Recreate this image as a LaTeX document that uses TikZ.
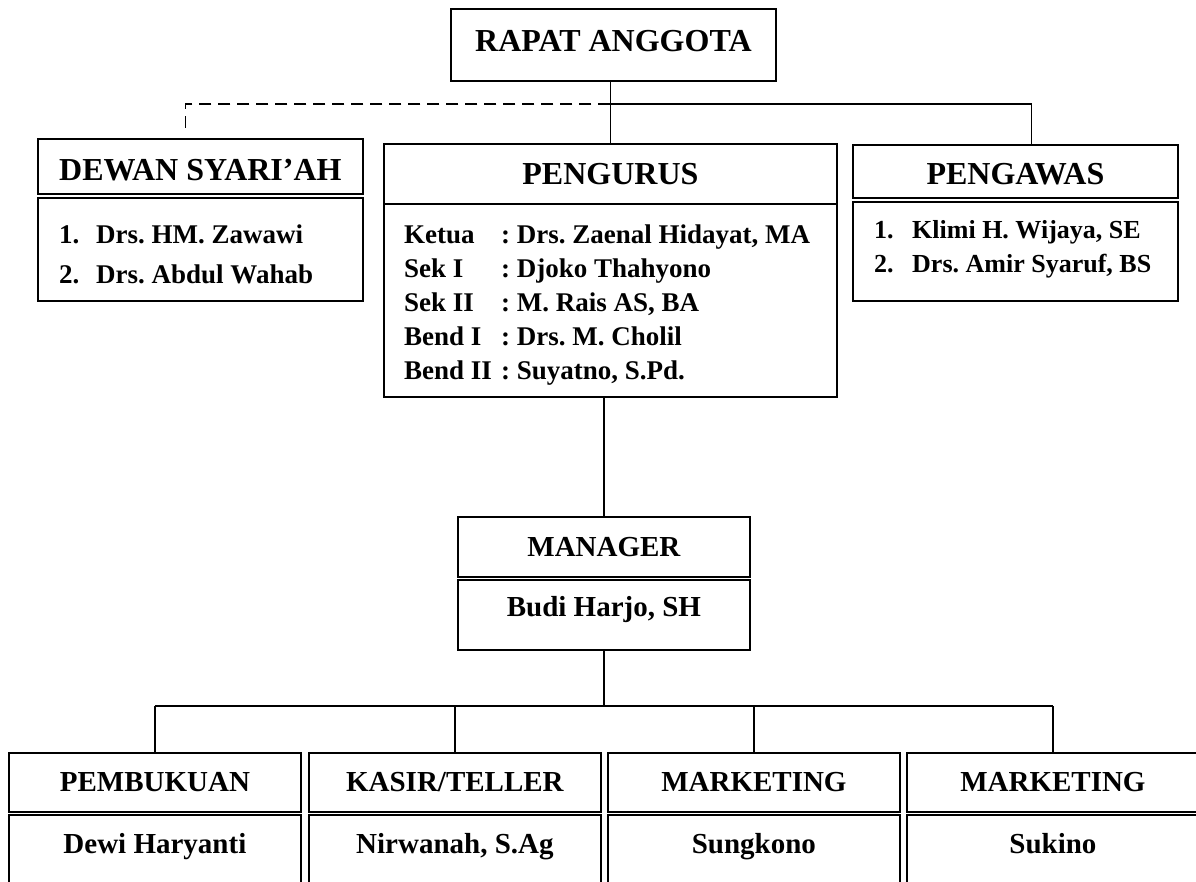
\documentclass[tikz,border=0pt]{standalone}
\usepackage{fontspec}
\setmainfont{Liberation Serif}
\usetikzlibrary{positioning}
\frenchspacing
\tikzset{
  orgbox/.style={draw, rectangle, line width=1.8pt, inner sep=0pt},
  tophead/.style={orgbox, anchor=north west, text height=21pt, text depth=0pt,
    font=\fontsize{32}{38}\selectfont\bfseries},
  lowhead/.style={orgbox, anchor=north west, minimum width=292pt, minimum height=59pt,
    text height=19pt, text depth=0pt, font=\fontsize{29}{35}\selectfont\bfseries},
  lowbody/.style={orgbox, minimum width=292pt, minimum height=100pt,
    text height=20pt, text depth=44pt, font=\fontsize{29}{35}\selectfont\bfseries},
  listtxt/.style={inner sep=0pt, anchor=base west},
  link/.style={line width=1.8pt},
  dashlink/.style={link, dash pattern=on 12pt off 7pt}
}

\begin{document}
\begin{tikzpicture}[x=1pt, y=-1pt]
  \useasboundingbox (0,0) rectangle (1196,881);
  \clip (0,0) rectangle (1196,881);

  % top level
  \node[tophead, minimum width=325pt, minimum height=72pt, text depth=7pt] (rapat) at (450,8) {RAPAT ANGGOTA};

  % dewan syariah
  \node[tophead, minimum width=325pt, minimum height=55pt, text height=29pt] (dewan-head) at (37,138) {DEWAN SYARI'AH};
  \node[orgbox, minimum width=325pt, minimum height=103pt, below=2.2pt of dewan-head] (dewan-body) {};
  \node[listtxt, font=\fontsize{27}{40}\selectfont\bfseries] (dewan-list) at (59,243)
    {\begin{tabular}[t]{@{}p{37pt}@{}l@{}}1. & Drs. HM. Zawawi\\ 2. & Drs. Abdul Wahab\end{tabular}};

  % pengurus
  \node[tophead, minimum width=453pt, minimum height=60pt] (pengurus-head) at (383,143) {PENGURUS};
  \node[orgbox, minimum width=453pt, minimum height=193pt, below=-1.8pt of pengurus-head] (pengurus-body) {};
  \node[listtxt, font=\fontsize{27}{34}\selectfont\bfseries] (pengurus-list) at (404,243)
    {\begin{tabular}[t]{@{}p{97pt}@{}l@{}}
      Ketua & : Drs. Zaenal Hidayat, MA\\
      Sek I & : Djoko Thahyono\\
      Sek II & : M. Rais AS, BA\\
      Bend I & : Drs. M. Cholil\\
      Bend II & : Suyatno, S.Pd.
    \end{tabular}};

  % pengawas
  \node[tophead, minimum width=325pt, minimum height=53pt, text height=27pt] (pengawas-head) at (852,144) {PENGAWAS};
  \node[orgbox, minimum width=325pt, minimum height=99pt, below=2.2pt of pengawas-head] (pengawas-body) {};
  \node[listtxt, font=\fontsize{26}{34}\selectfont\bfseries] (pengawas-list) at (874,238)
    {\begin{tabular}[t]{@{}p{38pt}@{}l@{}}1. & Klimi H. Wijaya, SE\\ 2. & Drs. Amir Syaruf, BS\end{tabular}};

  % manager
  \node[lowhead, minimum height=60pt] (manager-head) at (457,516) {MANAGER};
  \node[lowbody, minimum height=70pt, text depth=18pt, below=1.6pt of manager-head] (manager-body) {Budi Harjo, SH};

  % units
  \node[lowhead] (buku-head) at (8,752) {PEMBUKUAN};
  \node[lowbody, below=1.6pt of buku-head] (buku-body) {Dewi Haryanti};
  \node[lowhead] (kasir-head) at (308,752) {KASIR/TELLER};
  \node[lowbody, below=1.6pt of kasir-head] (kasir-body) {Nirwanah, S.Ag};
  \node[lowhead] (mkt-a-head) at (607,752) {MARKETING};
  \node[lowbody, below=1.6pt of mkt-a-head] (mkt-a-body) {Sungkono};
  \node[lowhead] (mkt-b-head) at (906,752) {MARKETING};
  \node[lowbody, below=1.6pt of mkt-b-head] (mkt-b-body) {Sukino};

  % lines
  \path (pengurus-head.north) ++(0,-39) coordinate (bus-top);
  \path (manager-body.south) ++(0,55) coordinate (bus-low);
  \draw[link] (rapat.south -| pengurus-head.north) -- (pengurus-head.north);
  \draw[link] (bus-top) -| ([xshift=16pt]pengawas-head.north);
  \draw[dashlink] (bus-top) -| ([xshift=-15pt,yshift=4pt]dewan-head.north);
  \draw[link] (manager-head.north |- pengurus-body.south) -- (manager-head.north);
  \draw[link] (manager-body.south) -- (bus-low);
  \draw[link] (buku-head.north |- bus-low) -- (mkt-b-head.north |- bus-low);
  \foreach \unit in {buku,kasir,mkt-a,mkt-b}
    \draw[link] (\unit-head.north |- bus-low) -- (\unit-head.north);
\end{tikzpicture}
\end{document}
